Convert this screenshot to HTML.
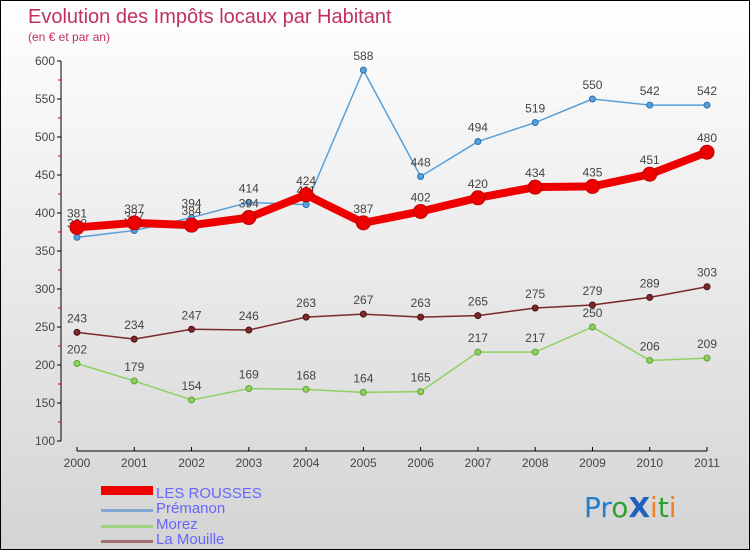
<!DOCTYPE html>
<html><head><meta charset="utf-8">
<style>
body{margin:0;}
#c{width:748px;height:548px;border:1px solid #000;background:linear-gradient(#fff,#d4d4d4);position:relative;font-family:"Liberation Sans",sans-serif;}
svg{position:absolute;left:0;top:0;}
</style></head><body>
<div id="c">
<svg id="s" width="750" height="550">
<text x="27" y="22" font-size="20" fill="#c03060">Evolution des Impôts locaux par Habitant</text>
<text x="27" y="40" font-size="12" fill="#c03060">(en € et par an)</text>
<g>
<rect x="100" y="485" width="52" height="9" fill="#e00"/>
<text x="155" y="497" font-size="15" fill="#6666ff">LES ROUSSES</text>
<rect x="100" y="508" width="52" height="3" fill="#80a8d0"/>
<text x="155" y="512" font-size="15" fill="#6666ff">Prémanon</text>
<rect x="100" y="524" width="52" height="3" fill="#a0d080"/>
<text x="155" y="528" font-size="15" fill="#6666ff">Morez</text>
<rect x="100" y="539" width="52" height="3" fill="#a07070"/>
<text x="155" y="543" font-size="15" fill="#6666ff">La Mouille</text>
</g>
<g font-size="28" font-family="'DejaVu Sans',sans-serif">
<text x="583" y="516"><tspan fill="#2080d0">Pr</tspan><tspan fill="#30a030">o</tspan><tspan fill="#2060c0" font-weight="bold">X</tspan><tspan fill="#f08020">i</tspan><tspan fill="#30a030">t</tspan><tspan fill="#f08020">i</tspan></text>
</g>
</svg>
</div>
<script>
const years=["2000","2001","2002","2003","2004","2005","2006","2007","2008","2009","2010","2011"];
const yTicks=[100,150,200,250,300,350,400,450,500,550,600];
const rousses=[381,387,384,394,424,387,402,420,434,435,451,480];
const premanon=[368,377,394,414,411,588,448,494,519,550,542,542];
const morez=[202,179,154,169,168,164,165,217,217,250,206,209];
const mouille=[243,234,247,246,263,267,263,265,275,279,289,303];
const NS="http://www.w3.org/2000/svg";
const svg=document.getElementById('s');
const X0=60,XA=76,XB=706,YA=440,YB=60;
function xs(i){return XA+(XB-XA)*i/(years.length-1);}
function ys(v){return YA-(v-100)*(YA-YB)/500;}
function mk(t,a,p){const e=document.createElementNS(NS,t);for(const k in a)e.setAttribute(k,a[k]);(p||svg).appendChild(e);return e;}
const ax=mk('g',{});


mk('line',{x1:X0,y1:YB,x2:X0,y2:YA,stroke:'#000'},ax);
mk('line',{x1:XA,y1:450,x2:XB,y2:450,stroke:'#000'},ax);
yTicks.forEach((v,i)=>{
 mk('line',{x1:X0-4,y1:ys(v),x2:X0,y2:ys(v),stroke:'#000'},ax);
 if(i<yTicks.length-1) mk('line',{x1:X0-3,y1:ys(v+25),x2:X0,y2:ys(v+25),stroke:'#d00'},ax);
 const t=mk('text',{x:X0-6,y:ys(v)+4,'font-size':12,'text-anchor':'end',fill:'#444'},ax);
 
 
 t.textContent=v;
});
years.forEach((y,i)=>{
 mk('line',{x1:xs(i),y1:446,x2:xs(i),y2:450,stroke:'#000'},ax);
 const t=mk('text',{x:xs(i),y:466,'font-size':12,'text-anchor':'middle',fill:'#444'},ax);
 
 
 t.textContent=y;
});
function series(vals,color,w,r,name,dark){
 const g=mk('g',{});
 
 
 mk('polyline',{points:vals.map((v,i)=>xs(i)+','+ys(v)).join(' '),fill:'none',stroke:color,'stroke-width':w,'stroke-linejoin':'round'},g);
 vals.forEach((v,i)=>{
  const c=mk('circle',{cx:xs(i),cy:ys(v),r:r,fill:color,stroke:dark,'stroke-width':1},g);
  
  
  const t=mk('text',{x:xs(i),y:ys(v)-10,'font-size':12,'text-anchor':'middle',fill:'#444'},g);
  
  
  t.textContent=v;
 });
}
series(mouille,'#7a2a2a',1.5,3,'la-mouille','#501010');
series(morez,'#90d060',1.5,3,'morez','#60a030');
series(premanon,'#5aa0d8',1.5,3,'premanon','#2a70b0');
series(rousses,'#ee0000',8,7,'les-rousses','#c00000');
</script>
</body></html>
